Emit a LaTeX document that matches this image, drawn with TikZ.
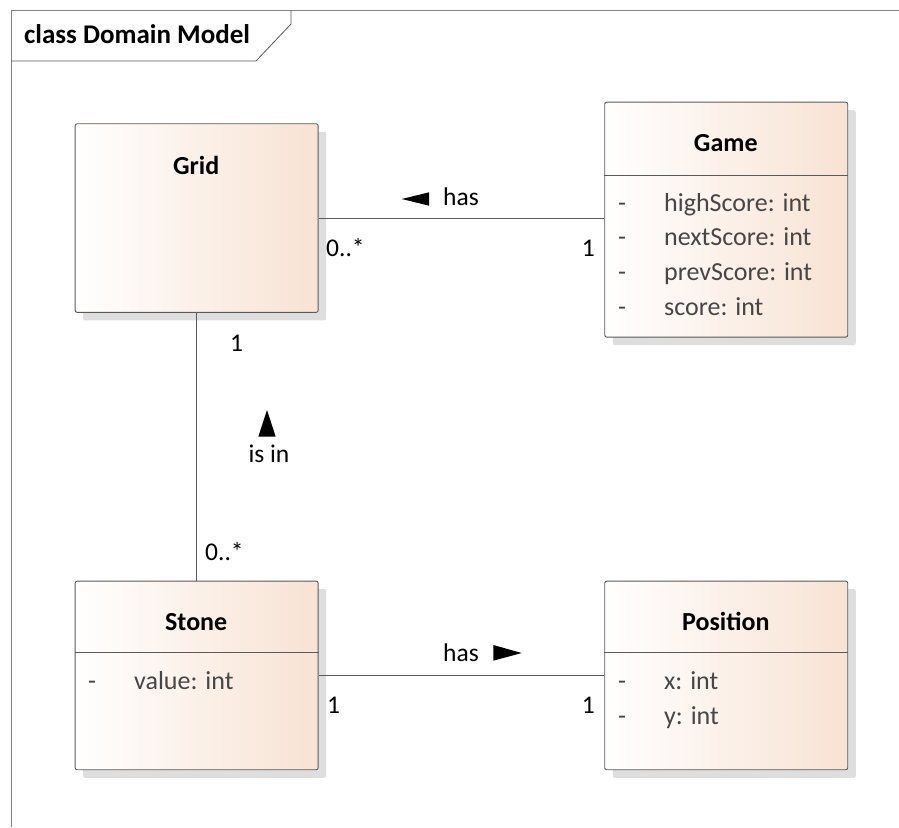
\documentclass[tikz,border=0pt]{standalone}
\usepackage{fontspec}
\setmainfont{Carlito}
\usetikzlibrary{shadows}

\definecolor{peach}{RGB}{248,226,211}
\definecolor{boxline}{RGB}{90,90,90}
\definecolor{framegray}{RGB}{130,130,130}
\definecolor{attrgray}{RGB}{70,70,70}

\tikzset{
  classbox/.style={draw=boxline, line width=0.9pt, rounded corners=2pt,
    left color=white, right color=peach, inner sep=0pt, anchor=north west,
    minimum width=243pt, minimum height=188.6pt,
    drop shadow={shadow xshift=8pt, shadow yshift=-8pt, fill=black!13, opacity=1}},
  ctitle/.style={font=\fontsize{26}{30}\selectfont\bfseries, text=black},
  attr/.style={font=\fontsize{26}{30}\selectfont, text=attrgray, anchor=base west, inner sep=0pt},
  lbl/.style={font=\fontsize{25.5}{30}\selectfont, text=black, inner sep=0pt},
  assoc/.style={draw=boxline, line width=0.9pt},
  sep/.style={draw=boxline, line width=0.8pt},
  dirmark/.style={fill=black, draw=none},
}

\begin{document}
\begin{tikzpicture}[x=1pt, y=-1pt]
\useasboundingbox (0,0) rectangle (899,827);

% diagram frame with its name tab
\draw[framegray, line width=0.9pt] (11,827) -- (11,10) -- (899,10);
\draw[boxline, line width=0.8pt] (11,61) -- (256,61) -- (291,24) -- (291,10);
\node[font=\fontsize{27}{31}\selectfont\bfseries, anchor=base west, inner sep=0pt]
  (frametitle) at (24,43.3) {class Domain Model};

% classes
\node[classbox, minimum height=234.9pt] (game) at (604.3,101.7) {};
\node[classbox] (grid) at (74.7,123.3) {};
\node[classbox] (stone) at (74.7,580.7) {};
\node[classbox] (position) at (604.3,580.7) {};

% class names
\node[ctitle] (gridname) at (196.2,165) {Grid};
\node[ctitle] (gamename) at (725.8,143) {Game};
\node[ctitle] (stonename) at (196.2,621.7) {Stone};
\node[ctitle] (positionname) at (725.8,621.7) {Position};

% compartment separators
\coordinate (gsep) at (0,175);
\coordinate (ssep) at (0,652.7);
\draw[sep] (game.west |- gsep) -- (game.east |- gsep);
\draw[sep] (stone.west |- ssep) -- (stone.east |- ssep);
\draw[sep] (position.west |- ssep) -- (position.east |- ssep);

% attributes of Game
\foreach \n/\t [count=\i from 0] in {ga/highScore: int, gb/nextScore: int, gc/prevScore: int, gd/score: int}{
  \node[attr] (\n-vis) at (618,211+34.8*\i) {-};
  \node[attr] (\n) at (664,211+34.8*\i) {\t};
}
% attributes of Stone
\node[attr] (sa-vis) at (88,689) {-};
\node[attr] (sa) at (134,689) {value: int};
% attributes of Position
\node[attr] (pa-vis) at (618,689) {-};
\node[attr] (pa) at (664,689) {x: int};
\node[attr] (pb-vis) at (618,724) {-};
\node[attr] (pb) at (664,724) {y: int};

% associations
\draw[assoc] (grid.east) -- (grid.east -| game.west);
\draw[assoc] (grid.south) -- (stone.north);
\draw[assoc] (stone.east) -- (position.west);

% Grid -- Game
\node[lbl, anchor=base west] (hasgg) at (443,205.7) {has};
\fill[dirmark] (429,192.3) -- (429,205.7) -- (401.7,199) -- cycle;
\node[lbl, anchor=base west] (mgrid) at (326,256.7) {0..*};
\node[lbl, anchor=base east] (mgame) at (595,256.7) {1};

% Grid -- Stone
\node[lbl, anchor=base west] (mgrid2) at (230,351.7) {1};
\fill[dirmark] (258.3,436.7) -- (275.7,436.7) -- (267,410) -- cycle;
\node[lbl, anchor=base] (isin) at (269,462.3) {is in};
\node[lbl, anchor=base west] (mstone) at (205,560) {0..*};

% Stone -- Position
\node[lbl, anchor=base west] (hassp) at (443,661.7) {has};
\fill[dirmark] (493.3,645) -- (493.3,660.7) -- (521.7,653) -- cycle;
\node[lbl, anchor=base west] (mstone2) at (327,713) {1};
\node[lbl, anchor=base east] (mposition) at (595,713) {1};
\end{tikzpicture}
\end{document}
